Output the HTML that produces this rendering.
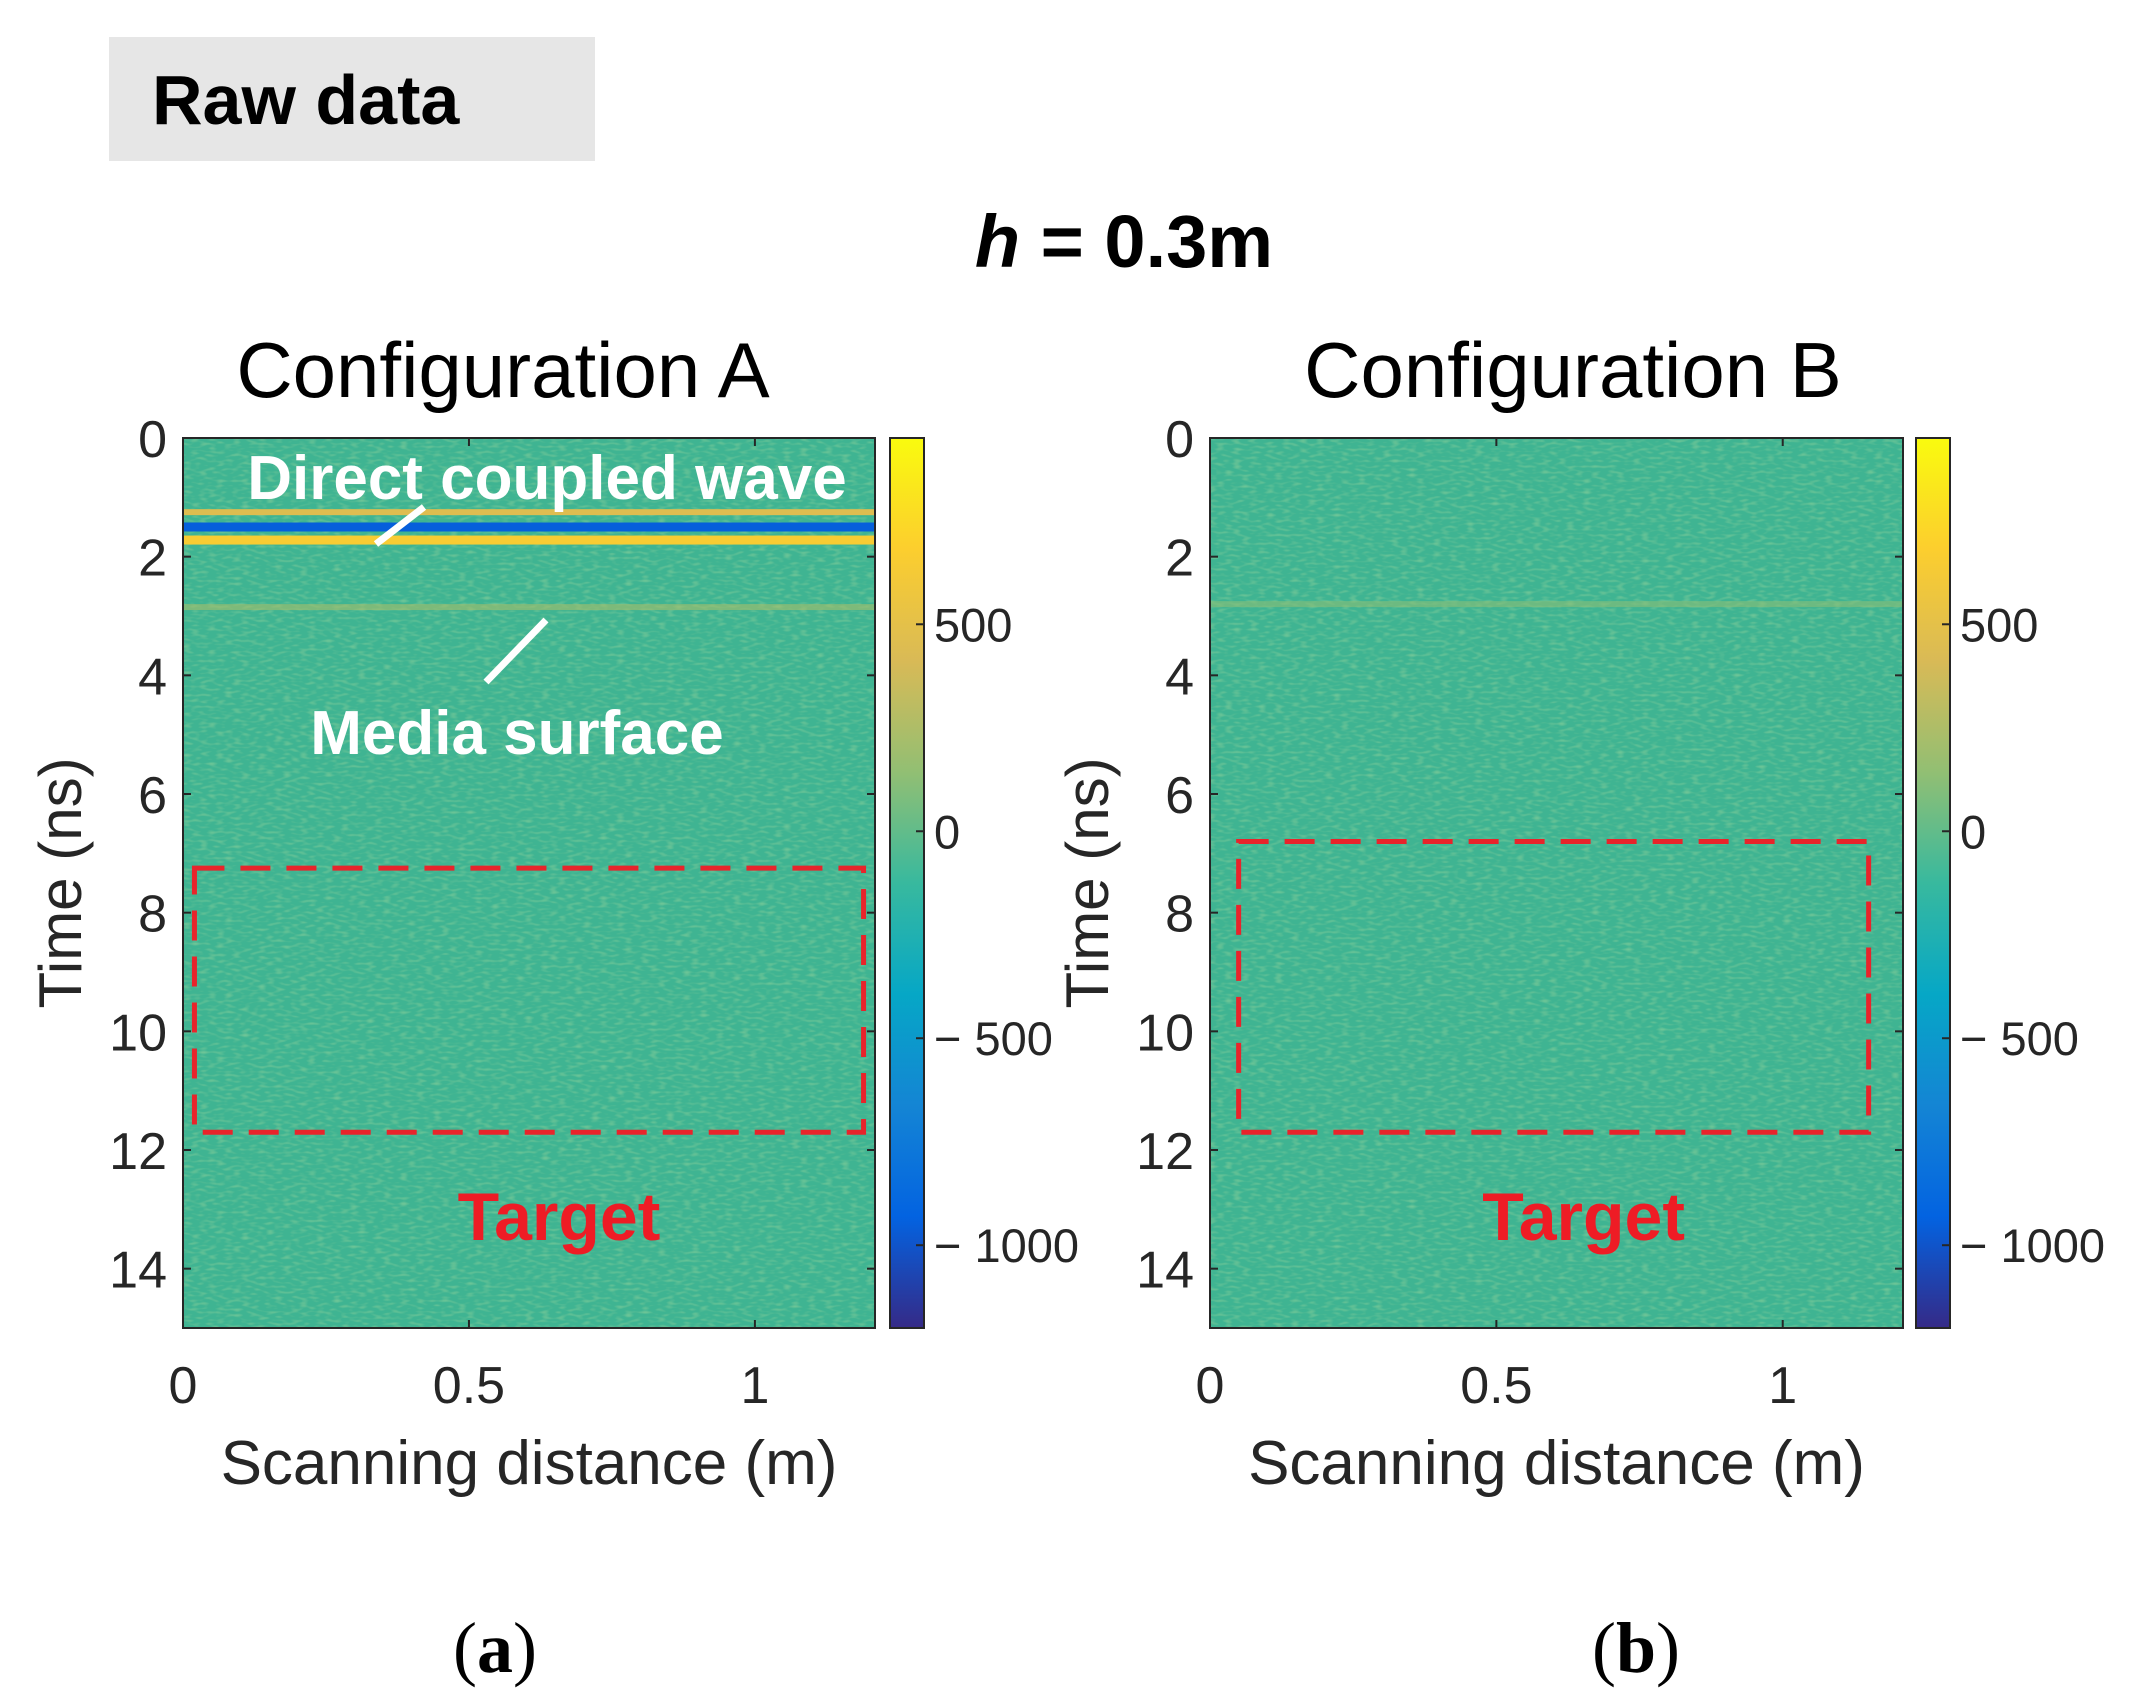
<!DOCTYPE html>
<html><head><meta charset="utf-8"><style>
html,body{margin:0;padding:0;background:#fff;}
svg{display:block;}
</style></head><body>
<svg id="fig" width="2134" height="1707" viewBox="0 0 2134 1707" xmlns="http://www.w3.org/2000/svg">
<defs>
<linearGradient id="parula" x1="0" y1="1" x2="0" y2="0">
<stop offset="0" stop-color="#352a87"/><stop offset="0.125" stop-color="#0363e1"/><stop offset="0.25" stop-color="#1485d4"/><stop offset="0.375" stop-color="#06a7c6"/><stop offset="0.5" stop-color="#38b99e"/><stop offset="0.625" stop-color="#92bf73"/><stop offset="0.75" stop-color="#d9ba56"/><stop offset="0.875" stop-color="#fcce2e"/><stop offset="1" stop-color="#f9fb0e"/>
</linearGradient>
<filter id="grain" x="0" y="0" width="100%" height="100%">
<feTurbulence type="fractalNoise" baseFrequency="0.12 0.35" numOctaves="1" seed="3"/>
<feColorMatrix type="matrix" values="0 0 0 0 0.55  0 0 0 0 0.78  0 0 0 0 0.35  0 0 0 1.6 -0.75"/>
</filter>
</defs>
<rect x="109" y="37" width="486" height="124" fill="#e6e6e6"/>
<text x="152" y="124" font-family="Liberation Sans, sans-serif" font-weight="bold" font-size="70" fill="#000">Raw data</text>
<text x="1124" y="267" text-anchor="middle" font-family="Liberation Sans, sans-serif" font-weight="bold" font-size="74" fill="#000"><tspan font-style="italic">h</tspan> = 0.3m</text>
<g id="panels"></g>
<text x="495" y="1672" text-anchor="middle" font-family="Liberation Serif, serif" font-size="72" fill="#000">(<tspan font-weight="bold">a</tspan>)</text>
<text x="1636" y="1672" text-anchor="middle" font-family="Liberation Serif, serif" font-size="72" fill="#000">(<tspan font-weight="bold">b</tspan>)</text>
</svg>
<script>
const yTicks=[0,2,4,6,8,10,12,14];
const xTicks=[0,0.5,1];
const xTickLabels=["0","0.5","1"];
const cbTicks=[500,0,-500,-1000];
const cbTickLabels=["500","0","\u2212 500","\u2212 1000"];
const timeRange=[0,15];
const distRange=[0,1.21];
const colorRange=[-1200,950];
// reflection bands (time ns, amplitude) per configuration
const bandTimesA=[1.25,1.5,1.72,2.85];
const bandAmpsA=[450,-950,650,220];
const bandTimesB=[2.8];
const bandAmpsB=[120];
const targetBoxA=[0.02,7.25,1.19,11.7];
const targetBoxB=[0.05,6.8,1.15,11.7];

const NS='http://www.w3.org/2000/svg';
const panelsG=document.getElementById('panels');
function mk(tag,attrs,parent){const e=document.createElementNS(NS,tag);for(const k in attrs)e.setAttribute(k,attrs[k]);(parent||panelsG).appendChild(e);return e;}
const stops=[[0,'#352a87'],[0.125,'#0363e1'],[0.25,'#1485d4'],[0.375,'#06a7c6'],[0.5,'#38b99e'],[0.625,'#92bf73'],[0.75,'#d9ba56'],[0.875,'#fcce2e'],[1,'#f9fb0e']];
function hex(h){return [1,3,5].map(i=>parseInt(h.substr(i,2),16));}
function cmap(v){let f=(v-colorRange[0])/(colorRange[1]-colorRange[0]);f=Math.max(0,Math.min(1,f));
for(let i=0;i<stops.length-1;i++){if(f<=stops[i+1][0]){const t=(f-stops[i][0])/(stops[i+1][0]-stops[i][0]);const a=hex(stops[i][1]),b=hex(stops[i+1][1]);return 'rgb('+a.map((c,j)=>Math.round(c+(b[j]-c)*t)).join(',')+')';}}return stops[stops.length-1][1];}
const FONT='Liberation Sans, sans-serif';
function panel(p){
 const L=p.left,R=p.right,T=438,B=1328;
 const sx=v=>L+(v-distRange[0])/(distRange[1]-distRange[0])*(R-L);
 const sy=v=>T+(v-timeRange[0])/(timeRange[1]-timeRange[0])*(B-T);
 const g=mk('g',{});
 
 
 const t=mk('text',{x:p.titleX,y:397,'text-anchor':'middle','font-family':FONT,'font-size':78,fill:'#000'},g);t.textContent=p.title;
 
 const bg=mk('rect',{x:L,y:T,width:R-L,height:B-T,fill:'#3fb492'},g);
 
 const gr=mk('rect',{x:L,y:T,width:R-L,height:B-T,filter:'url(#grain)',opacity:0.6},g);
 
 p.times.forEach((tm,i)=>{const h=p.amps[i]<-500||p.amps[i]>500?9:6;
  const r=mk('rect',{x:L,y:sy(tm)-h/2,width:R-L,height:h,fill:cmap(p.amps[i]),opacity:Math.abs(p.amps[i])>300?1:0.6},g);
  });
 const fr=mk('rect',{x:L,y:T,width:R-L,height:B-T,fill:'none',stroke:'#262626','stroke-width':2},g);
 
 yTicks.forEach(v=>{mk('line',{x1:L,x2:L+8,y1:sy(v),y2:sy(v),stroke:'#262626','stroke-width':2},g);mk('line',{x1:R,x2:R-8,y1:sy(v),y2:sy(v),stroke:'#262626','stroke-width':2},g);
  const tx=mk('text',{x:L-16,y:sy(v)+19,'text-anchor':'end','font-family':FONT,'font-size':52,fill:'#262626'},g);tx.textContent=v;
  });
 xTicks.forEach((v,i)=>{mk('line',{x1:sx(v),x2:sx(v),y1:B,y2:B-8,stroke:'#262626','stroke-width':2},g);mk('line',{x1:sx(v),x2:sx(v),y1:T,y2:T+8,stroke:'#262626','stroke-width':2},g);
  const tx=mk('text',{x:sx(v),y:1403,'text-anchor':'middle','font-family':FONT,'font-size':52,fill:'#262626'},g);tx.textContent=xTickLabels[i];
  });
 const xl=mk('text',{x:(L+R)/2,y:1484,'text-anchor':'middle','font-family':FONT,'font-size':62,fill:'#262626'},g);xl.textContent='Scanning distance (m)';
 
 const yl=mk('text',{x:0,y:0,transform:'translate('+(L-102)+',883) rotate(-90)','text-anchor':'middle','font-family':FONT,'font-size':60,fill:'#262626'},g);yl.textContent='Time (ns)';
 
 const cy=v=>B-(v-colorRange[0])/(colorRange[1]-colorRange[0])*(B-T);
 const cb=mk('rect',{x:p.cbX,y:T,width:34,height:B-T,fill:'url(#parula)',stroke:'#262626','stroke-width':2},g);
 
 cbTicks.forEach((v,i)=>{mk('line',{x1:p.cbX+34,x2:p.cbX+26,y1:cy(v),y2:cy(v),stroke:'#262626','stroke-width':2},g);
  const tx=mk('text',{x:p.cbX+44,y:cy(v)+17,'font-family':FONT,'font-size':47,fill:'#262626'},g);tx.textContent=cbTickLabels[i];
  });
 const b=p.box;
 const tb=mk('rect',{x:sx(b[0]),y:sy(b[1]),width:sx(b[2])-sx(b[0]),height:sy(b[3])-sy(b[1]),fill:'none',stroke:'#e8242b','stroke-width':5,'stroke-dasharray':'30,16'},g);
 
 const tt=mk('text',{x:(sx(b[0])+sx(b[2]))/2+30,y:1240,'text-anchor':'middle','font-family':FONT,'font-weight':'bold','font-size':68,fill:'#ee1c25'},g);tt.textContent='Target';
 
 return g;
}
const gA=panel({id:'a',left:183,right:875,cbX:890,titleX:503,title:'Configuration A',times:bandTimesA,amps:bandAmpsA,box:targetBoxA});
panel({id:'b',left:1210,right:1903,cbX:1916,titleX:1573,title:'Configuration B',times:bandTimesB,amps:bandAmpsB,box:targetBoxB});
const t1=mk('text',{x:547,y:499,'text-anchor':'middle','font-family':FONT,'font-weight':'bold','font-size':62,fill:'#fff'},gA);t1.textContent='Direct coupled wave';

const l1=mk('line',{x1:376,y1:544,x2:424,y2:507,stroke:'#fff','stroke-width':7},gA);

const t2=mk('text',{x:517,y:754,'text-anchor':'middle','font-family':FONT,'font-weight':'bold','font-size':62,fill:'#fff'},gA);t2.textContent='Media surface';

const l2=mk('line',{x1:486,y1:682,x2:546,y2:620,stroke:'#fff','stroke-width':7},gA);

</script>
</body></html>
